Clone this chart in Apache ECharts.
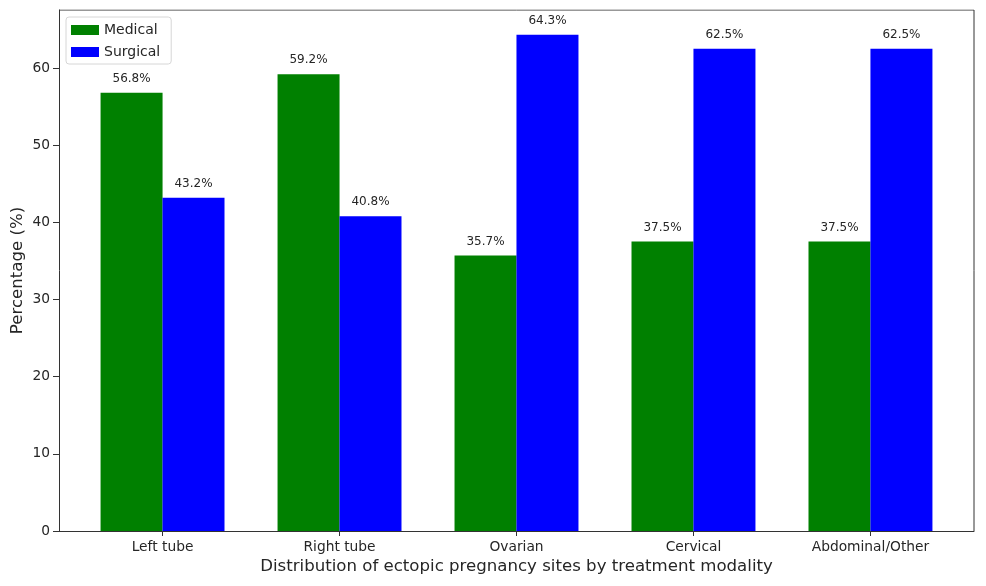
<!DOCTYPE html>
<html>
<head>
<meta charset="utf-8">
<script src="https://cdn.jsdelivr.net/npm/echarts@6/dist/echarts.min.js"></script>
<style>
  html, body { margin: 0; padding: 0; background: #fff; }
  #chart { width: 986px; height: 586px; }
</style>
</head>
<body>
<div id="chart"></div>
<script>
var categories = ['Left tube', 'Right tube', 'Ovarian', 'Cervical', 'Abdominal/Other'];
var medical = [56.8, 59.2, 35.7, 37.5, 37.5];
var surgical = [43.2, 40.8, 64.3, 62.5, 62.5];
var yTicks = [0, 10, 20, 30, 40, 50, 60];
var barOffset = 0.175; // half of bar width in category units

function pairs(vals, off) {
  return vals.map(function (v, i) { return [i + off, v]; });
}

var chart = echarts.init(document.getElementById('chart'));
chart.setOption({
  animation: false,
  textStyle: { fontFamily: 'DejaVu Sans' },
  legend: {
    left: 66,
    top: 17,
    orient: 'vertical',
    icon: 'rect',
    itemWidth: 28,
    itemHeight: 10,
    itemGap: 8,
    padding: [6, 11, 5, 5],
    borderColor: '#d6d6d6',
    borderWidth: 1,
    borderRadius: 3,
    backgroundColor: 'rgba(255,255,255,0.8)',
    textStyle: { fontSize: 14, color: '#262626', fontFamily: 'DejaVu Sans' },
    data: ['Medical', 'Surgical']
  },
  grid: { left: 59, right: 12, top: 10, bottom: 55, outerBoundsMode: 'none', containLabel: false },
  xAxis: {
    type: 'value',
    min: -0.585,
    max: 4.585,
    name: 'Distribution of ectopic pregnancy sites by treatment modality',
    nameLocation: 'middle',
    nameGap: 27,
    nameMoveOverlap: false,
    nameTextStyle: { fontSize: 16.6, color: '#262626' },
    axisLine: { show: true, onZero: false, lineStyle: { color: '#333', width: 1 } },
    axisTick: { show: true, length: 5, lineStyle: { color: '#333' }, customValues: [0, 1, 2, 3, 4] },
    axisLabel: {
      fontSize: 13.8, color: '#262626', margin: 9,
      customValues: [0, 1, 2, 3, 4],
      formatter: function (v) { return categories[Math.round(v)]; }
    },
    splitLine: { show: false }
  },
  yAxis: {
    type: 'value',
    min: 0,
    max: 67.515,
    name: 'Percentage (%)',
    nameLocation: 'middle',
    nameGap: 33,
    nameMoveOverlap: false,
    nameTextStyle: { fontSize: 16.6, color: '#262626' },
    axisLine: { show: true, onZero: false, lineStyle: { color: '#333', width: 1 } },
    axisTick: { show: true, length: 6, lineStyle: { color: '#333' }, customValues: yTicks },
    axisLabel: { fontSize: 13.8, color: '#262626', margin: 9, customValues: yTicks },
    splitLine: { show: false }
  },
  series: [
    {
      name: 'Medical',
      type: 'bar',
      barWidth: 62,
      barGap: '-100%',
      itemStyle: { color: '#008000' },
      label: {
        show: true, position: 'top', distance: 8, fontSize: 12, color: '#262626',
        formatter: function (p) { return p.value[1].toFixed(1) + '%'; }
      },
      data: pairs(medical, -barOffset)
    },
    {
      name: 'Surgical',
      type: 'bar',
      barWidth: 62,
      barGap: '-100%',
      itemStyle: { color: '#0000ff' },
      label: {
        show: true, position: 'top', distance: 8, fontSize: 12, color: '#262626',
        formatter: function (p) { return p.value[1].toFixed(1) + '%'; }
      },
      data: pairs(surgical, barOffset)
    },
    {
      // frame on the top and right of the plot area
      type: 'line',
      silent: true,
      symbol: 'none',
      lineStyle: { color: '#333', width: 1 },
      data: [[-0.585, 67.515], [4.585, 67.515], [4.585, 0]],
      tooltip: { show: false }
    }
  ]
});
</script>
</body>
</html>
